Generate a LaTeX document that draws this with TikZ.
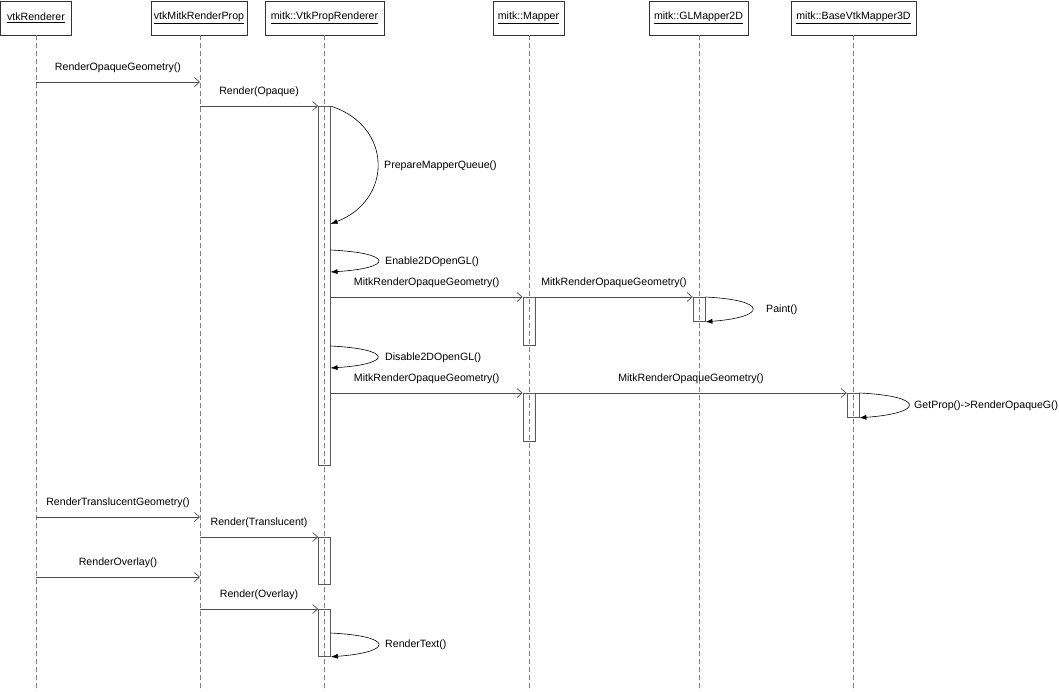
\documentclass[tikz,border=0pt]{standalone}
\usepackage{fontspec}
\setmainfont{Liberation Sans}
\usetikzlibrary{arrows.meta}
\begin{document}
\begin{tikzpicture}[x=1pt,y=-1pt,
  font=\fontsize{10.6}{12}\selectfont,
  head/.style={draw=black!80, line width=0.8pt, minimum height=34pt, anchor=north, inner sep=0pt, fill=white},
  life/.style={draw=black!50, dash pattern=on 5pt off 3pt, line width=0.7pt},
  act/.style={draw=black!65, line width=0.8pt, minimum width=12pt, inner sep=0pt, anchor=north},
  msg/.style={draw=black!70, line width=0.7pt, -{Straight Barb[length=5pt,width=9pt]}},
  selfmsg/.style={draw=black, line width=0.6pt, -{Latex[length=7pt,width=5pt]}},
  lbl/.style={inner sep=0pt},
  slbl/.style={inner sep=0pt, anchor=west},
]
\useasboundingbox (0,0) rectangle (1059,691);
\coordinate (bot) at (0,691);

% heads
\node[head, minimum width=71pt] (h1) at (36,0.5) {\underline{vtkRenderer}};
\node[head, minimum width=96pt] (h2) at (199,0.5) {\underline{vtkMitkRenderProp}};
\node[head, minimum width=119pt] (h3) at (324.5,0.5) {\underline{mitk::VtkPropRenderer}};
\node[head, minimum width=71pt] (h4) at (528.5,0.5) {\underline{mitk::Mapper}};
\node[head, minimum width=99pt] (h5) at (698.5,0.5) {\underline{mitk::GLMapper2D}};
\node[head, minimum width=125pt] (h6) at (853.5,0.5) {\underline{mitk::BaseVtkMapper3D}};

% lifelines
\coordinate (l1) at (36,35);
\coordinate (l2) at (200,35);
\coordinate (l3) at (324.5,35);
\coordinate (l4) at (529,35);
\coordinate (l5) at (699,35);
\coordinate (l6) at (853,35);
\foreach \i in {1,...,6} \draw[life] (l\i) -- (l\i |- bot);

% activations
\node[act, minimum height=359pt] (a1) at (324.5,106) {};
\node[act, minimum height=48pt] (a2) at (529,297) {};
\node[act, minimum height=24pt] (a3) at (699,297) {};
\node[act, minimum height=48pt] (a4) at (529,393) {};
\node[act, minimum height=24pt] (a5) at (853,393) {};
\node[act, minimum height=47pt] (a6) at (324.5,537) {};
\node[act, minimum height=47pt] (a7) at (324.5,609) {};

% message endpoints
\coordinate (m1s) at (36,82);   \coordinate (m1e) at (200,82);
\coordinate (m2s) at (200,106);
\coordinate (m9s) at (36,517);  \coordinate (m9e) at (200,517);
\coordinate (m10s) at (200,537);
\coordinate (m11s) at (36,577); \coordinate (m11e) at (200,577);
\coordinate (m12s) at (200,609);

\draw[msg] (m1s) -- node[lbl, yshift=14pt] {RenderOpaqueGeometry()} (m1e);
\draw[msg] (m2s) -- node[lbl, yshift=14pt] {Render(Opaque)} (a1.north west);
\draw[msg] (a1.east |- a2.north) -- node[lbl, yshift=14pt] {MitkRenderOpaqueGeometry()} (a2.north west);
\draw[msg] (a2.north east) -- node[lbl, yshift=14pt] {MitkRenderOpaqueGeometry()} (a3.north west);
\draw[msg] (a1.east |- a4.north) -- node[lbl, yshift=14pt] {MitkRenderOpaqueGeometry()} (a4.north west);
\draw[msg] (a4.north east) -- node[lbl, yshift=14pt] {MitkRenderOpaqueGeometry()} (a5.north west);
\draw[msg] (m9s) -- node[lbl, yshift=14pt] {RenderTranslucentGeometry()} (m9e);
\draw[msg] (m10s) -- node[lbl, yshift=14pt] {Render(Translucent)} (a6.north west);
\draw[msg] (m11s) -- node[lbl, yshift=14pt] {RenderOverlay()} (m11e);
\draw[msg] (m12s) -- node[lbl, yshift=14pt] {Render(Overlay)} (a7.north west);

% self messages
\coordinate (s1s) at (330.5,106); \coordinate (s1e) at (330.5,224);
\draw[selfmsg] (s1s) .. controls (393,126) and (393,200) .. (s1e);
\node[slbl] (t1) at (384,166) {PrepareMapperQueue()};

\coordinate (s2s) at (330.5,250); \coordinate (s2e) at (330.5,272);
\draw[selfmsg] (s2s) .. controls (394,253) and (394,268) .. (s2e);
\node[slbl] (t2) at (385,262) {Enable2DOpenGL()};

\draw[selfmsg] (a3.north east) .. controls (768,300) and (768,317) .. (a3.south east);
\node[slbl] (t3) at (766,310) {Paint()};

\coordinate (s4s) at (330.5,346); \coordinate (s4e) at (330.5,368);
\draw[selfmsg] (s4s) .. controls (393,349) and (393,364) .. (s4e);
\node[slbl] (t4) at (385,358) {Disable2DOpenGL()};

\draw[selfmsg] (a5.north east) .. controls (925,396) and (925,413) .. (a5.south east);
\node[slbl] (t5) at (914,406) {GetProp()->RenderOpaqueG()};

\coordinate (s6s) at (330.5,633);
\draw[selfmsg] (s6s) .. controls (394,636) and (394,652) .. (a7.south east);
\node[slbl] (t6) at (385,645) {RenderText()};
\end{tikzpicture}
\end{document}
